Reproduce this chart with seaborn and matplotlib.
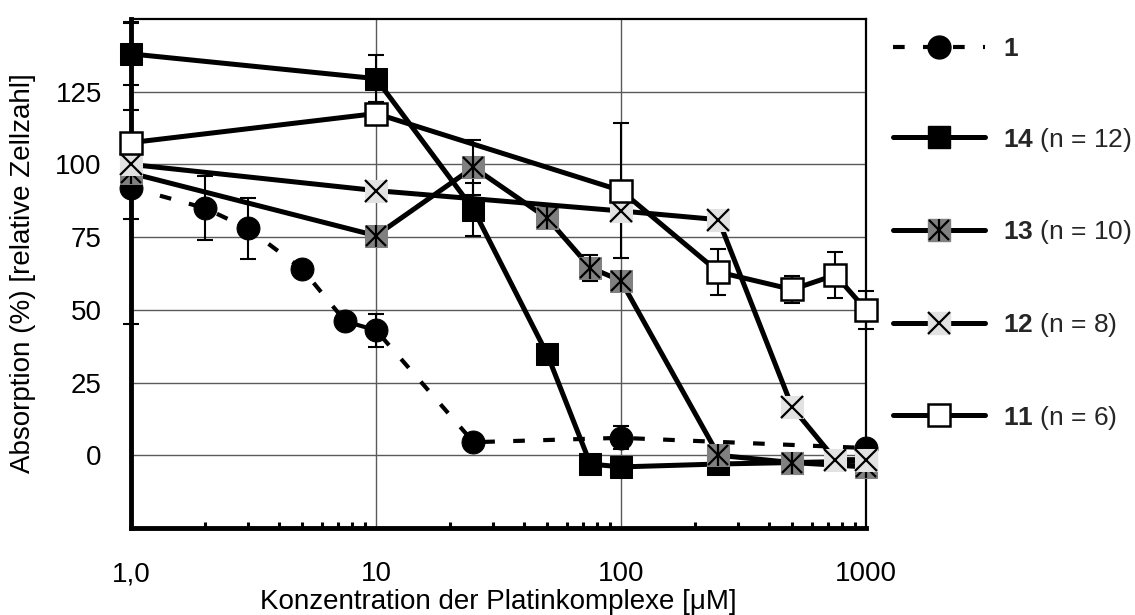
import numpy as np
import matplotlib
matplotlib.use("Agg")
import matplotlib.pyplot as plt
from matplotlib.lines import Line2D
from matplotlib.legend_handler import HandlerTuple
import seaborn as sns

# Concentrations [µM] and relative cell counts [%] with standard deviations
conc_1 = [1, 2, 3, 5, 7.5, 10, 25, 100, 1000]
abs_1 = [92, 85, 78, 64, 46, 43, 4.5, 6, 2.5]
err_1 = [10.6, 11, 10.5, 0, 0, 5.7, 0, 4, 0]

conc_14 = [1, 10, 25, 50, 75, 100, 250, 500, 1000]
abs_14 = [138, 129.5, 84.5, 34.7, -3, -4, -3, -2.5, -2]
err_14 = [10.7, 8, 9, 0, 0, 0, 0, 0, 0]

conc_13 = [1, 10, 25, 50, 75, 100, 250, 500, 1000]
abs_13 = [97, 75.5, 99, 81.5, 64.5, 60, 0, -2.5, -4]
err_13 = [52, 0, 9.5, 0, 4.5, 0, 0, 0, 0]

conc_12 = [1, 10, 100, 250, 500, 750, 1000]
abs_12 = [100, 91, 84, 81, 16.5, -1.5, -1.5]

conc_11 = [1, 10, 100, 250, 500, 750, 1000]
abs_11 = [107.5, 117.5, 91, 63, 57, 62, 50]
err_11 = [11.3, 4, 23.3, 8, 4.5, 8, 6.5]

y_ticks = [0, 25, 50, 75, 100, 125]
x_ticks = [1, 10, 100, 1000]
x_ticklabels = ["1,0", "10", "100", "1000"]

sns.set_theme(style="white")
plt.rcParams["font.family"] = ["Liberation Sans", "DejaVu Sans"]
plt.rcParams["mathtext.fontset"] = "custom"
plt.rcParams["mathtext.rm"] = "Liberation Sans"
plt.rcParams["mathtext.bf"] = "Liberation Sans:bold"

FS = 20
LEG_FS = 19
LW = 3.6
MS = 16.5
LIGHT = "#e2e2e2"
DARK = "#808080"

fig = plt.figure(figsize=(11.35, 6.15), dpi=100)
ax = fig.add_axes([131 / 1135, 1 - 528 / 615, (866 - 131) / 1135, (528 - 19) / 615])
ax.set_xscale("log")


def errbars(x, y, e):
    xs = [a for a, d in zip(x, e) if d > 0]
    ys = [b for b, d in zip(y, e) if d > 0]
    es = [d for d in e if d > 0]
    ax.errorbar(xs, ys, yerr=es, fmt="none", ecolor="black", elinewidth=1.5,
                capsize=5.5, capthick=1.5, clip_on=False, zorder=1.5)


errbars(conc_1, abs_1, err_1)
errbars(conc_14, abs_14, err_14)
errbars(conc_13, abs_13, err_13)
errbars(conc_11, abs_11, err_11)

common = dict(ax=ax, estimator=None, sort=False, legend=False, clip_on=False)

# 1: dashed line, filled circles
sns.lineplot(x=conc_1, y=abs_1, color="black", linewidth=3.0, marker="o",
             markersize=MS, markerfacecolor="black", markeredgecolor="black",
             zorder=3, **common)
ax.lines[-1].set_dashes([2.8, 4.4])
ax.lines[-1].set_dash_capstyle("butt")

# 14: filled black squares
sns.lineplot(x=conc_14, y=abs_14, color="black", linewidth=LW, marker="s",
             markersize=MS, markerfacecolor="black", markeredgecolor="black",
             zorder=4, **common)

# 13: dark grey squares with asterisk
sns.lineplot(x=conc_13, y=abs_13, color="black", linewidth=LW, marker="s",
             markersize=MS, markerfacecolor=DARK, markeredgecolor=DARK,
             zorder=5, **common)
ax.plot(conc_13, abs_13, linestyle="none", marker="x", markersize=MS - 2,
        markeredgewidth=1.6, color="black", clip_on=False, zorder=5.1)
ax.plot(conc_13, abs_13, linestyle="none", marker="|", markersize=MS,
        markeredgewidth=1.6, color="black", clip_on=False, zorder=5.1)

# 12: light grey squares with cross
sns.lineplot(x=conc_12, y=abs_12, color="black", linewidth=LW, marker="s",
             markersize=MS, markerfacecolor=LIGHT, markeredgecolor=LIGHT,
             zorder=6, **common)
ax.plot(conc_12, abs_12, linestyle="none", marker="x", markersize=MS - 1,
        markeredgewidth=1.6, color="black", clip_on=False, zorder=6.1)

# 11: open squares
sns.lineplot(x=conc_11, y=abs_11, color="black", linewidth=LW, marker="s",
             markersize=MS - 1, markerfacecolor="white", markeredgecolor="black",
             markeredgewidth=1.8, zorder=7, **common)

ax.set_xlim(1, 1000)
ax.set_ylim(-25, 150)
ax.set_xticks(x_ticks)
ax.set_xticklabels(x_ticklabels)
ax.set_yticks(y_ticks)
ax.set_yticklabels([str(v) for v in y_ticks])
ax.xaxis.set_minor_locator(matplotlib.ticker.LogLocator(base=10, subs=np.arange(2, 10)))
ax.xaxis.set_minor_formatter(matplotlib.ticker.NullFormatter())

ax.tick_params(axis="x", which="major", length=0, pad=24, labelsize=FS, labelcolor="black")
ax.tick_params(axis="x", which="minor", direction="in", length=4, width=2.2,
               bottom=True, color="black")
ax.tick_params(axis="y", which="major", length=0, pad=21, labelsize=FS, labelcolor="black")

ax.grid(True, which="major", axis="both", color="#5a5a5a", linewidth=1.0)
ax.set_axisbelow(True)

for side in ("left", "bottom"):
    ax.spines[side].set_linewidth(3.5)
    ax.spines[side].set_color("black")
for side in ("top", "right"):
    ax.spines[side].set_linewidth(1.6)
    ax.spines[side].set_color("black")

ax.set_xlabel("Konzentration der Platinkomplexe [μM]", fontsize=FS, labelpad=1, color="black")
ax.set_ylabel("Absorption (%) [relative Zellzahl]", fontsize=FS, labelpad=14, color="black")

# Legend with composite marker handles
h1 = Line2D([], [], color="black", linewidth=3.0, marker="o", markersize=MS,
            markerfacecolor="black", markeredgecolor="black")
h1.set_dashes([2.8, 4.4])
h14 = Line2D([], [], color="black", linewidth=LW, marker="s", markersize=MS,
             markerfacecolor="black", markeredgecolor="black")
h13a = Line2D([], [], color="black", linewidth=LW, marker="s", markersize=MS,
              markerfacecolor=DARK, markeredgecolor=DARK)
h13b = Line2D([], [], linestyle="none", marker="x", markersize=MS - 2,
              markeredgewidth=1.6, color="black")
h13c = Line2D([], [], linestyle="none", marker="|", markersize=MS,
              markeredgewidth=1.6, color="black")
h12a = Line2D([], [], color="black", linewidth=LW, marker="s", markersize=MS,
              markerfacecolor=LIGHT, markeredgecolor=LIGHT)
h12b = Line2D([], [], linestyle="none", marker="x", markersize=MS - 1,
              markeredgewidth=1.6, color="black")
h11 = Line2D([], [], color="black", linewidth=LW, marker="s", markersize=MS - 1,
             markerfacecolor="white", markeredgecolor="black", markeredgewidth=1.8)

labels = [r"$\mathbf{1}$", r"$\mathbf{14}$ (n = 12)", r"$\mathbf{13}$ (n = 10)",
          r"$\mathbf{12}$ (n = 8)", r"$\mathbf{11}$ (n = 6)"]
handles = [h1, h14, (h13a, h13b, h13c), (h12a, h12b), h11]
fig.legend(handles, labels, loc="upper left",
           bbox_to_anchor=(893 / 1135, 1 - 37 / 615), frameon=False,
           fontsize=LEG_FS, handlelength=3.5, handletextpad=0.65, labelspacing=2.45,
           borderpad=0, borderaxespad=0,
           handler_map={tuple: HandlerTuple(ndivide=1, pad=0)})

fig.savefig("out.png", dpi=100)
